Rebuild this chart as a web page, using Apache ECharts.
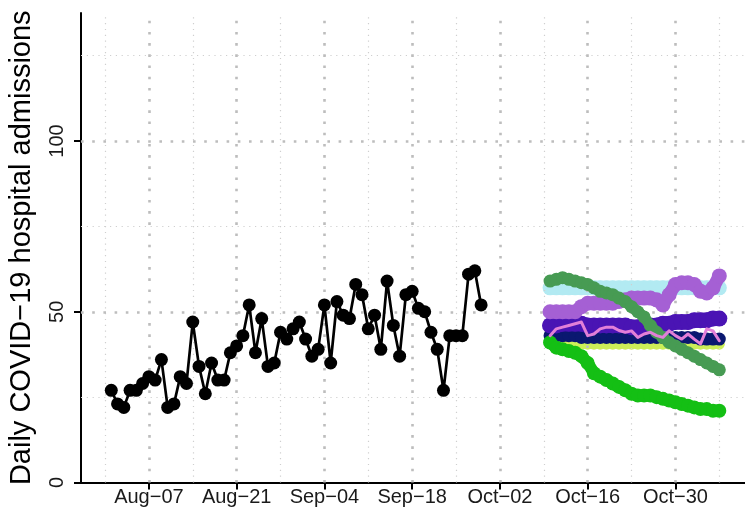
<!DOCTYPE html>
<html><head><meta charset="utf-8">
<script src="https://cdn.jsdelivr.net/npm/echarts@6/dist/echarts.min.js"></script>
<style>html,body{margin:0;padding:0;background:#fff}#c{width:745px;height:515px}</style>
</head><body><div id="c"></div>
<script>
// ---- data ----
const refDate = '2021-08-07';
const tickDates = ['2021-08-07','2021-08-21','2021-09-04','2021-09-18','2021-10-02','2021-10-16','2021-10-30'];
const tickLabels = ['Aug\u221207','Aug\u221221','Sep\u221204','Sep\u221218','Oct\u221202','Oct\u221216','Oct\u221230'];
const minorDates = ['2021-07-31','2021-08-14','2021-08-28','2021-09-11','2021-09-25','2021-10-09','2021-10-23','2021-11-06'];
const yTicks = [0, 50, 100];
const yMinor = [25, 75, 125];

const obsStart = '2021-08-01';
const observed = [27,23,22,27,27,29,31,30,36,22,23,31,29,47,34,26,35,30,30,38,40,43,52,38,48,34,35,44,42,45,47,
  42,37,39,52,35,53,49,48,58,55,45,49,39,59,46,37,55,56,51,50,44,39,27,43,43,43,61,62,52];

const fcStart = '2021-10-10';
const fcLightBlue = [57,57,57,57,57,57,57,57,57,57,57,57,57,57,57,57,57,57,57,57,57,57,57,57,57,57,57,57];
const fcYellowGreen = [41,41,40.5,40.5,40.5,40.5,40.5,40.5,40.5,40.5,40.5,40.5,40.5,40.5,40.5,40.5,40.5,40.5,40.5,40.5,40.5,40.5,40.5,40.5,40.5,40.5,40.5,40.5];
const fcNavy = [43,43,43,43,43,42.5,42.5,42.5,42.5,42.5,42.5,42.5,42.5,42.5,42.5,42.5,42.5,42.5,42.5,42.5,42.5,42.5,42.5,42.5,42,42,42,42];
const fcIndigo = [46,46,46.5,46.5,46.5,46.5,46,46,46,46,46,46,46,45.5,45.5,45.5,46,46,46.5,46.5,47,47,47,47.5,47.5,47.5,48,48];
const fcPurple = [50,50,50,50,50,51.5,52.5,52.5,52.5,52.5,52.5,53,53.5,54,54,54,54,53.5,52,55,58,58.5,58.5,58,56,55.5,57,60.5];
const fcBrightGreen = [41,39.5,39,38.5,38,37,35,32,31,30,29,28,27,26,25.5,25.5,25.5,25,24.5,24,23.5,23,22.5,22,21.5,21.5,21,21];
const fcDarkGreen = [59,59.5,60,59.5,59,58.5,58,57,56,55.5,55,54,53,51.5,50,48.5,46,44,42.5,41,40,39,38,37,36,35,34,33];
const fcPink = [43,45,45.5,46,46.5,47,43,43.5,45,45.5,45.5,44.5,44,44.4,42.5,43.5,44,43,42.5,44.4,43,42,43.5,42,40.6,45,44.4,41.5];

// ---- helpers ----
function day(s){const p=s.split('-').map(Number);const r=refDate.split('-').map(Number);
  return (Date.UTC(p[0],p[1]-1,p[2])-Date.UTC(r[0],r[1]-1,r[2]))/864e5;}
function pairs(start, vals){const d0=day(start);return vals.map((v,i)=>[d0+i,v]);}
const tickDays = tickDates.map(day);
const minorDays = minorDates.map(day);

const FONT = 'Liberation Sans, Arial, Helvetica, sans-serif';
const majorStyle = {color:'#bdbdbd', width:2.6, type:[2.6,8.6]};
const minorStyle = {color:'#cfcfcf', width:1.2, type:[1.2,4.6]};

function fc(name, vals, color, lw, sym, z){
  return {name, type:'line', data:pairs(fcStart, vals), z:z,
    symbol: sym? 'circle':'none', symbolSize: sym||0, showSymbol: !!sym,
    itemStyle:{color}, lineStyle:{color, width:lw, cap:'round', join:'round'},
    silent:true, animation:false};
}

const gridLines = [];
minorDays.forEach(d=>gridLines.push({xAxis:d, lineStyle:minorStyle}));
yMinor.forEach(v=>gridLines.push({yAxis:v, lineStyle:minorStyle}));
tickDays.forEach(d=>gridLines.push({xAxis:d, lineStyle:majorStyle}));
yTicks.filter(v=>v>0).forEach(v=>gridLines.push({yAxis:v, lineStyle:majorStyle}));

const chart = echarts.init(document.getElementById('c'), null, {renderer:'canvas'});
chart.setOption({
  animation:false,
  grid:{left:81, right:0, top:13, bottom:32.5, containLabel:false, outerBoundsMode:'none'},
  xAxis:{type:'value', min:-10.83, max:95.1,
    axisLine:{show:true, onZero:false, lineStyle:{color:'#000', width:2}},
    axisTick:{show:true, customValues:tickDays, length:7, lineStyle:{color:'#000', width:2}},
    axisLabel:{customValues:tickDays, margin:5, fontSize:20, color:'#1a1a1a', fontFamily:FONT,
      formatter:v=>{const i=tickDays.indexOf(v);return i>=0?tickLabels[i]:'';}},
    splitLine:{show:false}},
  yAxis:{type:'value', min:0, max:137.5,
    name:'Daily COVID\u221219 hospital admissions', nameLocation:'middle', nameRotate:90, nameGap:45,
    nameTextStyle:{fontSize:29, color:'#000', fontFamily:FONT},
    axisLine:{show:true, onZero:false, lineStyle:{color:'#000', width:2}},
    axisTick:{show:true, customValues:yTicks, length:7, lineStyle:{color:'#000', width:2}},
    axisLabel:{customValues:yTicks, rotate:90, margin:14, fontSize:20, color:'#1a1a1a', fontFamily:FONT},
    splitLine:{show:false}},
  series:[
    {type:'line', data:[[0,0]], showSymbol:false, symbol:'none', lineStyle:{width:0}, z:1, silent:true,
      markLine:{silent:true, symbol:['none','none'], label:{show:false}, animation:false, data:gridLines}},
    fc('lightblue', fcLightBlue, '#b2eaf2', 14, 15, 3),
    fc('yellowgreen', fcYellowGreen, '#ccef58', 9, 11, 4),
    fc('navy', fcNavy, '#0a1870', 11, 13, 5),
    fc('indigo', fcIndigo, '#4a14b4', 15, 16, 6),
    fc('purple', fcPurple, '#a560d4', 13, 15, 7),
    fc('brightgreen', fcBrightGreen, '#14bf14', 12, 14, 8),
    fc('darkgreen', fcDarkGreen, '#479b53', 11, 13, 9),
    fc('pink', fcPink, '#e27fd8', 3, 0, 10),
    {name:'observed', type:'line', data:pairs(obsStart, observed), z:11,
      symbol:'circle', symbolSize:13, itemStyle:{color:'#000'}, lineStyle:{color:'#000', width:2.7}, silent:true}
  ]
});
</script></body></html>
